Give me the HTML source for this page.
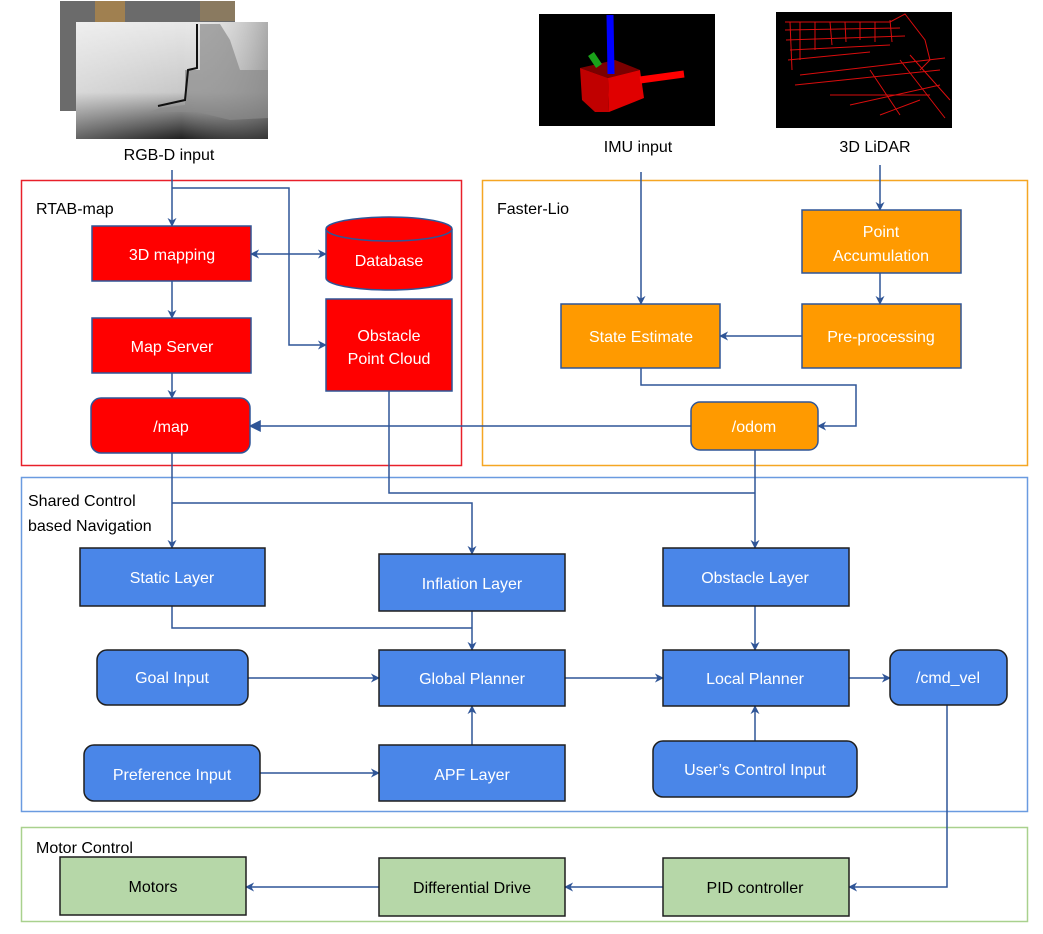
<!DOCTYPE html>
<html><head><meta charset="utf-8"><style>
html,body{margin:0;padding:0;background:#fff}
svg text{font-family:"Liberation Sans",sans-serif}
</style></head><body>
<svg width="1043" height="929" viewBox="0 0 1043 929" xmlns="http://www.w3.org/2000/svg">
<defs>
<marker id="a" viewBox="0 0 10 10" refX="9" refY="5" markerWidth="9" markerHeight="9" orient="auto-start-reverse" markerUnits="userSpaceOnUse"><path d="M0,0 L10,5 L0,10 L3,5 z" fill="#2f5597"/></marker>
<marker id="f" viewBox="0 0 10 10" refX="9" refY="5" markerWidth="12" markerHeight="12" orient="auto" markerUnits="userSpaceOnUse"><path d="M0,0 L10,5 L0,10 z" fill="#2f5597"/></marker>
<linearGradient id="dg" x1="0" y1="0" x2="0" y2="1"><stop offset="0" stop-color="#e8e8e8"/><stop offset="0.6" stop-color="#c8c8c8"/><stop offset="1" stop-color="#202020"/></linearGradient>
<linearGradient id="dg2" x1="0" y1="0" x2="1" y2="0"><stop offset="0" stop-color="#ffffff" stop-opacity="0.3"/><stop offset="0.55" stop-color="#ffffff" stop-opacity="0"/><stop offset="1" stop-color="#555" stop-opacity="0.4"/></linearGradient>
</defs>

<!-- images -->
<rect x="60" y="1" width="175" height="110" fill="#6b6b6b"/>
<rect x="95" y="1" width="30" height="22" fill="#a08050"/>
<rect x="200" y="1" width="35" height="20" fill="#8a7a60"/>
<rect x="76" y="22" width="192" height="117" fill="url(#dg)"/>
<rect x="76" y="22" width="192" height="117" fill="url(#dg2)"/>
<path d="M197,24 L200,24 L200,70 L185,70 L185,105 L160,108 L150,112 L197,112 L230,120 L268,118 L268,70 L240,70 L230,40 L220,24 Z" fill="#8a8a8a" opacity="0.7"/>
<path d="M197,24 L197,68 L188,70 L185,100 L158,106" stroke="#111" stroke-width="2" fill="none"/>
<text x="169" y="160" font-size="16" text-anchor="middle" fill="#000">RGB-D input</text>

<rect x="539" y="14" width="176" height="112" fill="#000"/>
<polygon points="580,68 615,60 640,70 608,78" fill="#7a0000"/>
<polygon points="580,68 608,78 609,112 595,112 582,100" fill="#c00000"/>
<polygon points="608,78 640,70 644,98 609,112" fill="#e00000"/>
<line x1="640" y1="80" x2="684" y2="74" stroke="#ff0000" stroke-width="7"/>
<line x1="591" y1="54" x2="599" y2="66" stroke="#1aa01a" stroke-width="7"/>
<line x1="610" y1="15" x2="611" y2="74" stroke="#0000ff" stroke-width="7"/>
<text x="638" y="152" font-size="16" text-anchor="middle" fill="#000">IMU input</text>

<rect x="776" y="12" width="176" height="116" fill="#000"/>
<g stroke="#ff1010" stroke-width="1" fill="none" opacity="0.85">
<path d="M785,22 L890,22 L905,14 L925,40 L930,60 L920,70"/>
<path d="M785,30 L900,28 M786,40 L905,36 M790,50 L890,45 M788,60 L870,52"/>
<path d="M790,22 L792,70 M800,22 L800,60 M815,22 L815,50 M830,22 L832,45 M845,22 L846,42 M860,22 L860,40 M875,22 L875,42 M890,20 L892,42"/>
<path d="M795,85 L940,70 M800,75 L945,58 M830,95 L930,95 M850,105 L940,85 M880,115 L920,100"/>
<path d="M900,60 L945,118 M910,55 L950,100 M870,70 L900,115"/>
</g>
<text x="875" y="152" font-size="16" text-anchor="middle" fill="#000">3D LiDAR</text>

<!-- containers -->
<rect x="21.5" y="180.5" width="440" height="285" fill="none" stroke="#e8202a" stroke-width="1.5"/>
<text x="36" y="214" font-size="16">RTAB-map</text>
<rect x="482.5" y="180.5" width="545" height="285" fill="none" stroke="#f5a623" stroke-width="1.5"/>
<text x="497" y="214" font-size="16">Faster-Lio</text>
<rect x="21.5" y="477.5" width="1006" height="334" fill="none" stroke="#6a9be0" stroke-width="1.5"/>
<text x="28" y="506" font-size="16">Shared Control</text>
<text x="28" y="531" font-size="16">based Navigation</text>
<rect x="21.5" y="827.5" width="1006" height="94" fill="none" stroke="#a9d18e" stroke-width="1.5"/>
<text x="36" y="853" font-size="16">Motor Control</text>

<!-- connectors -->
<g stroke="#2f5597" stroke-width="1.5" fill="none">
<path d="M172,170 L172,226" marker-end="url(#a)"/>
<path d="M172,188 L289,188 L289,345 L326,345" marker-end="url(#a)"/>
<path d="M251,254 L326,254" marker-start="url(#a)" marker-end="url(#a)"/>
<path d="M172,281 L172,318" marker-end="url(#a)"/>
<path d="M172,373 L172,398" marker-end="url(#a)"/>
<path d="M691,426 L250,426" marker-end="url(#f)"/>
<path d="M641,172 L641,304" marker-end="url(#a)"/>
<path d="M880,165 L880,210" marker-end="url(#a)"/>
<path d="M880,273 L880,304" marker-end="url(#a)"/>
<path d="M802,336 L720,336" marker-end="url(#a)"/>
<path d="M641,368 L641,385 L856,385 L856,426 L818,426" marker-end="url(#a)"/>
<path d="M172,453 L172,548" marker-end="url(#a)"/>
<path d="M172,503 L472,503 L472,554" marker-end="url(#a)"/>
<path d="M389,391 L389,493 L755,493"/>
<path d="M755,450 L755,548" marker-end="url(#a)"/>
<path d="M172,606 L172,628 L472,628"/>
<path d="M472,611 L472,650" marker-end="url(#a)"/>
<path d="M755,606 L755,650" marker-end="url(#a)"/>
<path d="M248,678 L379,678" marker-end="url(#a)"/>
<path d="M565,678 L663,678" marker-end="url(#a)"/>
<path d="M849,678 L890,678" marker-end="url(#a)"/>
<path d="M472,745 L472,706" marker-end="url(#a)"/>
<path d="M755,741 L755,706" marker-end="url(#a)"/>
<path d="M260,773 L379,773" marker-end="url(#a)"/>
<path d="M947,690 L947,887 L849,887" marker-end="url(#a)"/>
<path d="M663,887 L565,887" marker-end="url(#a)"/>
<path d="M379,887 L246,887" marker-end="url(#a)"/>
</g>

<!-- red nodes -->
<g stroke="#2f5597" stroke-width="1.5" fill="#ff0000">
<rect x="92" y="226" width="159" height="55"/>
<rect x="92" y="318" width="159" height="55"/>
<rect x="91" y="398" width="159" height="55" rx="10"/>
<path d="M326,229 L326,278 A63,12 0 0 0 452,278 L452,229 A63,12 0 0 0 326,229 Z"/>
<path d="M326,229 A63,12 0 0 0 452,229"/>
<rect x="326" y="299" width="126" height="92"/>
</g>
<g font-size="16" fill="#fff" text-anchor="middle">
<text x="172" y="260">3D mapping</text>
<text x="172" y="352">Map Server</text>
<text x="171" y="432">/map</text>
<text x="389" y="266">Database</text>
<text x="389" y="341">Obstacle</text>
<text x="389" y="364">Point Cloud</text>
</g>

<!-- orange nodes -->
<g stroke="#2f5597" stroke-width="1.5" fill="#ff9a00">
<rect x="802" y="210" width="159" height="63"/>
<rect x="802" y="304" width="159" height="64"/>
<rect x="561" y="304" width="159" height="64"/>
<rect x="691" y="402" width="127" height="48" rx="9"/>
</g>
<g font-size="16" fill="#fff" text-anchor="middle">
<text x="881" y="237">Point</text>
<text x="881" y="261">Accumulation</text>
<text x="881" y="342">Pre-processing</text>
<text x="641" y="342">State Estimate</text>
<text x="754" y="432">/odom</text>
</g>

<!-- blue nodes -->
<g stroke="#1f1f1f" stroke-width="1.5" fill="#4a86e8">
<rect x="80" y="548" width="185" height="58"/>
<rect x="379" y="554" width="186" height="57"/>
<rect x="663" y="548" width="186" height="58"/>
<rect x="97" y="650" width="151" height="55" rx="10"/>
<rect x="379" y="650" width="186" height="56"/>
<rect x="663" y="650" width="186" height="56"/>
<rect x="890" y="650" width="117" height="55" rx="10"/>
<rect x="84" y="745" width="176" height="56" rx="10"/>
<rect x="379" y="745" width="186" height="56"/>
<rect x="653" y="741" width="204" height="56" rx="10"/>
</g>
<g font-size="16" fill="#fff" text-anchor="middle">
<text x="172" y="583">Static Layer</text>
<text x="472" y="589">Inflation Layer</text>
<text x="755" y="583">Obstacle Layer</text>
<text x="172" y="683">Goal Input</text>
<text x="472" y="684">Global Planner</text>
<text x="755" y="684">Local Planner</text>
<text x="948" y="683">/cmd_vel</text>
<text x="172" y="780">Preference Input</text>
<text x="472" y="780">APF Layer</text>
<text x="755" y="775">User’s Control Input</text>
</g>

<!-- green nodes -->
<g stroke="#1f1f1f" stroke-width="1.5" fill="#b6d7a8">
<rect x="60" y="857" width="186" height="58"/>
<rect x="379" y="858" width="186" height="58"/>
<rect x="663" y="858" width="186" height="58"/>
</g>
<g font-size="16" fill="#000" text-anchor="middle">
<text x="153" y="892">Motors</text>
<text x="472" y="893">Differential Drive</text>
<text x="755" y="893">PID controller</text>
</g>
</svg>
</body></html>
